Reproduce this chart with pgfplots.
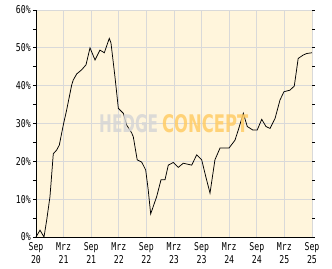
\documentclass[border=0pt]{standalone}
\usepackage{pgfplots}
\pgfplotsset{compat=1.18}
\usepackage{fontspec}
\setmainfont{DejaVu Sans Mono}
\newfontfamily\pix[FakeStretch=0.76]{DejaVu Sans Mono}
\newfontfamily\wm{DejaVu Sans Condensed Bold}
\definecolor{bgy}{HTML}{FFF5DC}
\definecolor{gridc}{HTML}{D9D9D9}
\definecolor{wmgrey}{HTML}{D6D6D6}
\definecolor{wmorange}{HTML}{FFCC66}
\begin{document}
\begin{tikzpicture}[x=1bp,y=1bp]
\path[use as bounding box] (0,0) rectangle (332,269);
\begin{axis}[
  at={(36bp,32bp)}, anchor=south west,
  scale only axis, width=276bp, height=227bp,
  xmin=0, xmax=60, ymin=0, ymax=60,
  axis background/.style={fill=bgy},
  axis line style={draw=none},
  xtick={0,6,...,60},
  xticklabels={Sep\\20,Mrz\\21,Sep\\21,Mrz\\22,Sep\\22,Mrz\\23,Sep\\23,Mrz\\24,Sep\\24,Mrz\\25,Sep\\25},
  xticklabel style={align=center, font=\pix\fontsize{10.8bp}{13bp}\selectfont, inner sep=1bp, yshift=-1.5bp},
  ytick={0,10,...,60},
  yticklabels={0\%,10\%,20\%,30\%,40\%,50\%,60\%},
  minor ytick={5,15,...,55},
  yticklabel style={font=\pix\fontsize{10.8bp}{12bp}\selectfont, inner sep=1bp, xshift=-1bp},
  xmajorgrids, ymajorgrids,
  major grid style={gridc, line width=0.9bp},
  xtick style={draw=none},
  ytick style={black, line width=0.7bp},
  minor tick style={black, line width=0.7bp},
  tick align=outside,
  major tick length=3bp, minor tick length=3bp,
  clip=false,
]
\addplot[black, line width=0.75bp, mark=none] coordinates {
(0,0) (0.87,1.8) (1.74,0) (2.33,4.5) (3.04,10.7) (3.76,22) (4.5,23) (5.07,24.3)
(5.93,29.6) (6.67,33.6) (7.76,40.2) (8.1,41.5) (8.85,43.1) (9.93,44.2) (10.87,45.5)
(11.74,50) (12.83,46.8) (13.9,49.4) (14.85,48.7) (15.93,52.5) (16.3,51.3) (17.17,42.3)
(17.9,34) (18.98,32.7) (19.7,29.6) (20.8,27.5) (21.15,26.5) (22.0,20.4) (22.98,19.8)
(23.85,17.7) (24.4,12.4) (24.93,6.1) (26.24,10.7) (27.17,15.1) (28.04,15.1) (28.76,19)
(29.85,19.7) (30.93,18.4) (32.02,19.5) (33.85,19) (34.93,21.7) (36.02,20.4) (36.9,16)
(37.83,11.6) (38.9,20.4) (40.0,23.5) (41.96,23.5) (43.26,25.6) (43.98,28.3) (45.07,32.7)
(45.93,29.2) (47.1,28.3) (48.1,28.3) (49.07,31.1) (50.0,29.2) (50.87,28.7) (51.96,31.3)
(53.04,36.2) (53.9,38.4) (55.2,38.8) (56.15,39.9) (57.0,47.2) (58.1,48.1) (58.85,48.5) (60,48.7)
};
\draw[black, line width=0.9bp] (axis cs:0,60) -- (axis cs:0,0) -- (axis cs:60,0);
\end{axis}
\node[anchor=south west, inner sep=0, text=wmgrey, opacity=0.85] at (99bp,136bp) {\resizebox{59bp}{18bp}{\wm HEDGE}};
\node[anchor=south west, inner sep=0, text=wmorange, opacity=0.85] at (162bp,136bp) {\resizebox{86bp}{18bp}{\wm CONCEPT}};
\end{tikzpicture}
\end{document}
